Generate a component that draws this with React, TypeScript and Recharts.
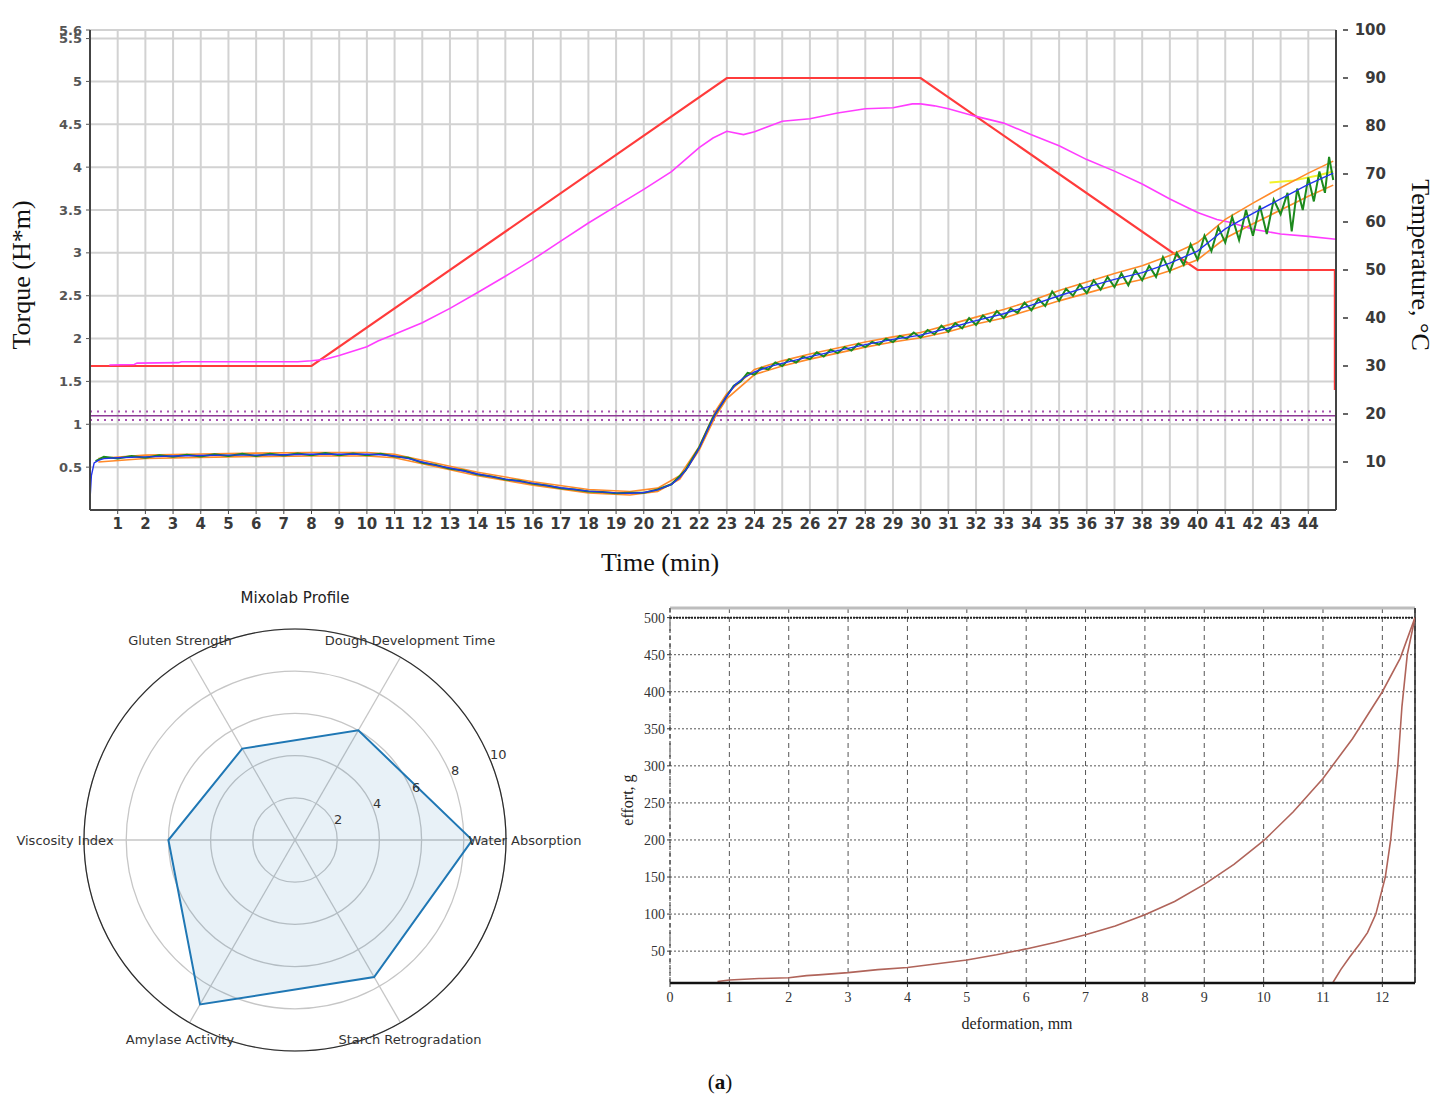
import React from 'react';
import {
  LineChart, Line, XAxis, YAxis, CartesianGrid, ReferenceLine,
  RadarChart, Radar, PolarGrid, PolarAngleAxis, PolarRadiusAxis,
} from 'recharts';

// ---------- Top chart (Mixolab curve) ----------
const timeTicks = [1,2,3,4,5,6,7,8,9,10,11,12,13,14,15,16,17,18,19,20,21,22,23,24,25,26,27,28,29,30,31,32,33,34,35,36,37,38,39,40,41,42,43,44];
const torqueTicks = [0.5,1,1.5,2,2.5,3,3.5,4,4.5,5,5.5,5.6];
const tempTicks = [10,20,30,40,50,60,70,80,90,100];
const torqueBandLines = [1.05, 1.15];
const torqueTargetLine = 1.1;

const setTemperature: [number, number][] = [[0,30],[8,30],[23,90],[30,90],[40,50],[44.96,50],[44.96,25]];

const doughTemperature: [number, number][] = [
  [0.7,30.2],[1.6,30.3],[1.7,30.6],[3.2,30.7],[3.3,30.9],[7.5,30.9],[8,31.1],[8.5,31.4],[9,32.2],[10,34.0],[10.4,35.2],[11,36.6],
  [12,39.0],[13,42.0],[14,45.3],[15,48.7],[16,52.2],[17,56.0],[18,59.8],[19,63.3],[20,66.8],[21,70.5],[22,75.5],[22.5,77.5],
  [23,78.9],[23.6,78.2],[24,78.8],[25,81.0],[26,81.5],[27,82.7],[28,83.6],[29,83.8],[29.7,84.6],[30,84.6],[30.5,84.2],[31,83.6],
  [32,82.0],[33,80.6],[34,78.2],[35,75.9],[36,73.0],[37,70.6],[38,67.9],[39,64.8],[40,62.0],[40.7,60.5],[41.2,59.9],[42,58.5],
  [43,57.5],[44,57.0],[45,56.4],
];

const torqueMean: [number, number][] = [
  [0,0.12],[0.05,0.4],[0.15,0.55],[0.3,0.58],[0.5,0.6],[1,0.61],[2,0.62],[3,0.63],[4,0.635],[5,0.64],[6,0.64],[7,0.645],[8,0.65],
  [9,0.65],[10,0.65],[10.5,0.645],[11,0.63],[11.5,0.6],[12,0.56],[12.5,0.52],[13,0.49],[14,0.42],[15,0.36],[16,0.31],[17,0.26],
  [18,0.22],[19,0.2],[19.5,0.195],[20,0.205],[20.5,0.235],[21,0.3],[21.3,0.38],[21.6,0.5],[22,0.72],[22.3,0.93],[22.6,1.13],
  [23,1.33],[23.3,1.46],[23.6,1.54],[24,1.61],[24.5,1.67],[25,1.71],[26,1.79],[27,1.86],[28,1.93],[29,1.99],[30,2.04],[31,2.12],
  [32,2.21],[33,2.29],[34,2.39],[35,2.5],[36,2.6],[37,2.69],[38,2.77],[39,2.88],[40,3.02],[40.5,3.15],[41,3.28],[42,3.46],
  [43,3.63],[44,3.8],[44.9,3.93],
];

const torqueUpper: [number, number][] = [
  [0.3,0.6],[2,0.64],[5,0.66],[8,0.67],[10,0.67],[11,0.65],[12,0.58],[14,0.44],[16,0.33],[18,0.24],[19.5,0.215],[20.5,0.255],
  [21.3,0.4],[22,0.74],[22.6,1.16],[23,1.36],[24,1.64],[25,1.74],[26,1.82],[27,1.89],[28,1.96],[29,2.02],[30,2.07],[31,2.16],
  [32,2.25],[33,2.34],[34,2.44],[35,2.56],[36,2.66],[37,2.76],[38,2.85],[39,2.97],[40,3.12],[41,3.39],[42,3.58],[43,3.76],
  [44,3.93],[44.9,4.07],
];

const torqueLower: [number, number][] = [
  [0.3,0.56],[2,0.6],[5,0.62],[8,0.63],[10,0.63],[11,0.61],[12,0.54],[14,0.4],[16,0.29],[18,0.2],[19.5,0.175],[20.5,0.215],
  [21.3,0.36],[22,0.7],[22.6,1.1],[23,1.3],[24,1.58],[25,1.68],[26,1.76],[27,1.83],[28,1.9],[29,1.96],[30,2.01],[31,2.08],
  [32,2.17],[33,2.24],[34,2.34],[35,2.44],[36,2.53],[37,2.62],[38,2.69],[39,2.79],[40,2.92],[41,3.17],[42,3.34],[43,3.5],
  [44,3.66],[44.9,3.79],
];

const torqueRaw: [number, number][] = [
  [0.2,0.57],[0.5,0.62],[1,0.6],[1.5,0.63],[2,0.61],[2.5,0.64],[3,0.62],[3.5,0.645],[4,0.625],[4.5,0.65],[5,0.63],[5.5,0.655],
  [6,0.63],[6.5,0.655],[7,0.635],[7.5,0.66],[8,0.64],[8.5,0.665],[9,0.64],[9.5,0.66],[10,0.64],[10.5,0.655],[11,0.625],[11.5,0.61],
  [12,0.55],[12.5,0.525],[13,0.48],[13.5,0.46],[14,0.415],[14.5,0.39],[15,0.355],[15.5,0.34],[16,0.305],[16.5,0.285],[17,0.255],
  [17.5,0.24],[18,0.215],[18.5,0.21],[19,0.195],[19.5,0.2],[20,0.2],[20.5,0.24],[21,0.3],[21.5,0.46],[22,0.73],[22.5,1.08],[23,1.33],
  [23.25,1.45],[23.5,1.5],[23.75,1.6],[24,1.58],[24.25,1.66],[24.5,1.64],[24.75,1.72],[25,1.68],[25.25,1.76],[25.5,1.72],[25.75,1.79],
  [26,1.76],[26.25,1.84],[26.5,1.79],[26.75,1.87],[27,1.83],[27.25,1.9],[27.5,1.86],[27.75,1.94],[28,1.9],[28.25,1.96],[28.5,1.93],
  [28.75,2.0],[29,1.96],[29.25,2.03],[29.5,2.0],[29.75,2.07],[30,2.01],[30.25,2.1],[30.5,2.05],[30.75,2.15],[31,2.08],[31.25,2.18],
  [31.5,2.12],[31.75,2.24],[32,2.16],[32.25,2.27],[32.5,2.2],[32.75,2.32],[33,2.24],[33.25,2.35],[33.5,2.3],[33.75,2.42],[34,2.33],
  [34.25,2.46],[34.5,2.38],[34.75,2.55],[35,2.44],[35.25,2.58],[35.5,2.5],[35.75,2.63],[36,2.53],[36.25,2.68],[36.5,2.57],
  [36.75,2.72],[37,2.6],[37.25,2.76],[37.5,2.62],[37.75,2.8],[38,2.68],[38.25,2.85],[38.5,2.72],[38.75,2.95],[39,2.78],[39.25,3.0],
  [39.5,2.86],[39.75,3.1],[40,2.92],[40.25,3.2],[40.5,3.02],[40.75,3.3],[41,3.12],[41.25,3.42],[41.5,3.15],[41.75,3.5],[42,3.2],
  [42.25,3.55],[42.5,3.22],[42.75,3.62],[43,3.45],[43.25,3.7],[43.4,3.25],[43.6,3.75],[43.8,3.5],[44,3.88],[44.2,3.6],[44.4,3.95],
  [44.6,3.7],[44.75,4.12],[44.9,3.85],
];

const torqueReference: [number, number][] = [[42.6,3.82],[43.4,3.84],[44.3,3.9],[44.9,3.95]];

// ---------- Radar (Mixolab profile) ----------
// listed clockwise from the upper-left spoke
const radarAxes = ['Gluten Strength','Dough Development Time','Water Absorption','Starch Retrogradation','Amylase Activity','Viscosity Index'];
const radarValues = [5.0, 6.0, 8.4, 7.5, 9.0, 6.0];
const radarTicks = [2, 4, 6, 8, 10];

// ---------- Penetration curve ----------
const deformTicks = [0,1,2,3,4,5,6,7,8,9,10,11,12];
const effortTicks = [50,100,150,200,250,300,350,400,450,500];
const loading: [number, number][] = [
  [0.8,9],[1,11],[1.5,13],[2,14],[2.3,17],[2.5,18],[3,21],[3.5,25],[4,28],[4.5,33],[5,38],[5.5,45],[6,53],[6.5,62],[7,72],
  [7.5,84],[8,99],[8.5,117],[9,140],[9.5,167],[10,199],[10.5,238],[11,283],[11.5,337],[12,400],[12.3,445],[12.55,500],
];
const unloading: [number, number][] = [
  [12.55,500],[12.42,450],[12.33,380],[12.26,300],[12.14,200],[12.05,150],[11.89,100],[11.75,75],[11.62,60],[11.45,42],[11.3,25],[11.17,8],
];

const rows = (pairs: [number, number][], key: string) => pairs.map(([x, v]) => ({ x, [key]: v }));

const sans = 'DejaVu Sans';
const serif = 'Liberation Serif';

const RightTick = (props: any) => {
  const { x, y, payload } = props;
  return (
    <g>
      <line x1={x + 7} x2={x + 12} y1={y} y2={y} stroke="#333" strokeWidth={1.5} />
      <text x={x + 50} y={y} dy={5} textAnchor="end" fontSize={15} fontWeight="bold" fill="#3a3a3a" fontFamily={sans}>{payload.value}</text>
    </g>
  );
};

const AngleTick = (props: any) => {
  const { x, y, cx, cy, payload } = props;
  let tx = x, ty = y;
  if (typeof cx === 'number' && typeof cy === 'number') {
    const dx = x - cx, dy = y - cy;
    const len = Math.hypot(dx, dy) || 1;
    const r = len + 11;
    tx = cx + (dx / len) * r;
    ty = cy + (dy / len) * r;
  }
  return (
    <text x={tx} y={ty} textAnchor="middle" dominantBaseline="central" fontSize={13} fill="#333" fontFamily={sans}>
      {payload.value}
    </text>
  );
};

const RadiusTick = (props: any) => {
  const { x, y, payload } = props;
  return <text x={x} y={y} textAnchor="start" fontSize={13} fill="#333" fontFamily={sans}>{payload.value}</text>;
};

const abs = (left: number, top: number, extra: React.CSSProperties = {}): React.CSSProperties => ({
  position: 'absolute', left, top, transform: 'translate(-50%, -50%)', whiteSpace: 'nowrap', ...extra,
});

export default function App() {
  const radarData = radarAxes.map((axis, i) => ({ axis, value: radarValues[i] }));
  return (
    <div style={{ position: 'absolute', left: 0, top: 0, width: 1441, height: 1104, background: '#fff', fontFamily: sans, overflow: 'hidden' }}>
      {/* Top Mixolab chart */}
      <div style={{ position: 'absolute', left: 0, top: 0 }}>
        <LineChart width={1441} height={560} margin={{ top: 30, right: 0, bottom: 0, left: 0 }}>
          <CartesianGrid yAxisId="left" stroke="#d2d2d2" strokeWidth={2} />
          <XAxis type="number" dataKey="x" domain={[0, 45]} ticks={timeTicks} interval={0} height={50}
            axisLine={{ stroke: '#444', strokeWidth: 2 }} tickLine={{ stroke: '#444' }} tickSize={4} tickMargin={4}
            tick={{ fontSize: 15, fontWeight: 'bold', fill: '#3a3a3a', fontFamily: sans }} allowDataOverflow />
          <YAxis yAxisId="left" orientation="left" domain={[0, 5.6]} ticks={torqueTicks} interval={0} width={90}
            axisLine={{ stroke: '#444', strokeWidth: 2 }} tickLine={{ stroke: '#555' }} tickSize={4} tickMargin={4}
            tick={{ fontSize: 13, fontWeight: 'bold', fill: '#555', fontFamily: sans }} allowDataOverflow />
          <YAxis yAxisId="right" orientation="right" domain={[0, 100]} ticks={tempTicks} interval={0} width={105}
            axisLine={{ stroke: '#444', strokeWidth: 2 }} tickLine={false} tickSize={0} tickMargin={0}
            tick={<RightTick />} allowDataOverflow />
          <ReferenceLine yAxisId="left" y={torqueTargetLine} stroke="#8e3a96" strokeWidth={1.5} />
          {torqueBandLines.map((v) => (
            <ReferenceLine key={v} yAxisId="left" y={v} stroke="#a855b0" strokeWidth={2} strokeDasharray="2 5" />
          ))}
          <Line yAxisId="right" data={rows(setTemperature, 'v')} dataKey="v" stroke="#ff3b3b" strokeWidth={2.2} dot={false} isAnimationActive={false} />
          <Line yAxisId="right" data={rows(doughTemperature, 'v')} dataKey="v" stroke="#ff3dff" strokeWidth={1.6} dot={false} isAnimationActive={false} />
          <Line yAxisId="left" data={rows(torqueReference, 'v')} dataKey="v" stroke="#f2f22a" strokeWidth={2} dot={false} isAnimationActive={false} />
          <Line yAxisId="left" data={rows(torqueUpper, 'v')} dataKey="v" stroke="#ff8a2a" strokeWidth={1.6} dot={false} isAnimationActive={false} />
          <Line yAxisId="left" data={rows(torqueLower, 'v')} dataKey="v" stroke="#ff8a2a" strokeWidth={1.6} dot={false} isAnimationActive={false} />
          <Line yAxisId="left" data={rows(torqueRaw, 'v')} dataKey="v" stroke="#1d8a1d" strokeWidth={2} dot={false} isAnimationActive={false} />
          <Line yAxisId="left" data={rows(torqueMean, 'v')} dataKey="v" stroke="#2233ee" strokeWidth={1.4} dot={false} isAnimationActive={false} />
        </LineChart>
      </div>
      <div style={abs(22, 275, { transform: 'translate(-50%, -50%) rotate(-90deg)', fontFamily: serif, fontSize: 26, color: '#111' })}>Torque (H*m)</div>
      <div style={abs(1420, 265, { transform: 'translate(-50%, -50%) rotate(90deg)', fontFamily: serif, fontSize: 26, color: '#111' })}>Temperature, °C</div>
      <div style={abs(660, 563, { fontFamily: serif, fontSize: 26, color: '#111' })}>Time (min)</div>

      {/* Radar chart */}
      <div style={abs(295, 598, { fontFamily: sans, fontSize: 15, color: '#222' })}>Mixolab Profile</div>
      <div style={{ position: 'absolute', left: 0, top: 580 }}>
        <RadarChart width={590} height={500} cx={295} cy={260} outerRadius={211} startAngle={120} endAngle={-240} data={radarData}>
          <PolarGrid gridType="circle" stroke="#c6c6c6" strokeWidth={1.3} />
          <PolarAngleAxis dataKey="axis" axisLineType="circle" axisLine={{ stroke: '#2a2a2a', strokeWidth: 1.2 }} tickLine={false} tick={<AngleTick />} />
          <PolarRadiusAxis angle={22.5} domain={[0, 10]} ticks={radarTicks} axisLine={false} tickLine={false} tick={<RadiusTick />} />
          <Radar dataKey="value" stroke="#1f77b4" strokeWidth={2} fill="#1f77b4" fillOpacity={0.1} dot={false} isAnimationActive={false} />
        </RadarChart>
      </div>

      {/* Penetration chart */}
      <div style={{ position: 'absolute', left: 600, top: 590 }}>
        <LineChart width={841} height={460} margin={{ top: 18, right: 26, bottom: 0, left: 0 }}>
          <CartesianGrid vertical={false} stroke="#555" strokeDasharray="2 2" />
          <CartesianGrid horizontal={false} stroke="#555" strokeDasharray="5 4" />
          <XAxis type="number" dataKey="x" domain={[0, 12.55]} ticks={deformTicks} interval={0} height={67}
            axisLine={{ stroke: '#111', strokeWidth: 2.5 }} tickLine={{ stroke: '#333' }} tickSize={4} tickMargin={5}
            tick={{ fontSize: 14, fill: '#333', fontFamily: serif }} allowDataOverflow />
          <YAxis type="number" domain={[7, 513]} ticks={effortTicks} interval={0} width={70}
            axisLine={{ stroke: '#333', strokeDasharray: '4 3' }} tickLine={{ stroke: '#333' }} tickSize={3} tickMargin={2}
            tick={{ fontSize: 14, fill: '#333', fontFamily: serif }} allowDataOverflow />
          <ReferenceLine y={513} stroke="#bdbdbd" strokeWidth={3} />
          <ReferenceLine y={500} stroke="#222" strokeWidth={2} strokeDasharray="2 1" />
          <ReferenceLine x={12.55} stroke="#222" strokeWidth={1.5} />
          <Line data={rows(loading, 'v')} dataKey="v" stroke="#b0645a" strokeWidth={1.6} dot={false} isAnimationActive={false} />
          <Line data={rows(unloading, 'v')} dataKey="v" stroke="#b0645a" strokeWidth={1.6} dot={false} isAnimationActive={false} />
        </LineChart>
      </div>
      <div style={abs(628, 800, { transform: 'translate(-50%, -50%) rotate(-90deg)', fontFamily: serif, fontSize: 16, color: '#222' })}>effort, g</div>
      <div style={abs(1017, 1024, { fontFamily: serif, fontSize: 16, color: '#222' })}>deformation, mm</div>

      <div style={abs(720, 1082, { fontFamily: serif, fontSize: 21, color: '#111' })}>(<b>a</b>)</div>
    </div>
  );
}
